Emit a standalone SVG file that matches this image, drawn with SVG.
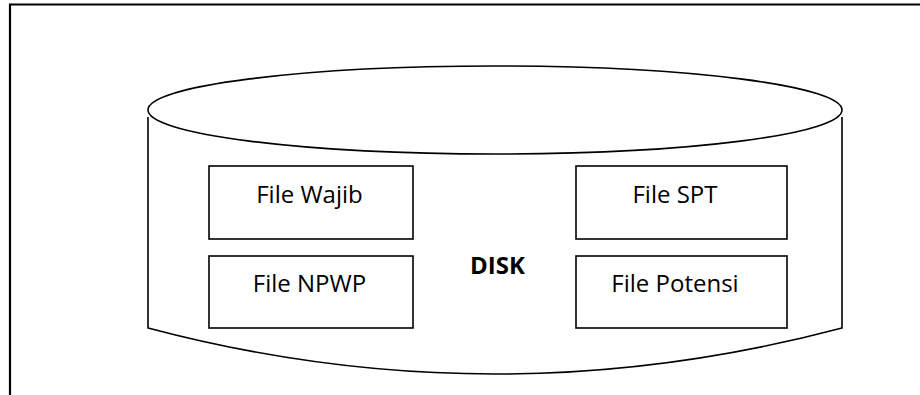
<svg xmlns="http://www.w3.org/2000/svg" width="920" height="395" viewBox="0 0 920 395">
<style>
.frame{fill:none;stroke:#000;stroke-width:2.2}
.cyl{fill:none;stroke:#000;stroke-width:1.6}
.box{fill:#fff;stroke:#000;stroke-width:1.6}
.lbl{font-family:"Open Sans","Noto Sans",sans-serif;font-size:24px;fill:#000;text-anchor:middle}
.bold{font-weight:bold}
</style>
<rect width="920" height="395" fill="#fff"/>
<path class="frame" d="M10,396 V4.5 H921"/>
<g id="disk">
<ellipse class="cyl" cx="495" cy="110" rx="347" ry="44"/>
<path class="cyl" d="M148,117 V328 Q495,420 842,328 V117"/>
<text class="lbl bold" x="497.5" y="274">DISK</text>
</g>
<g id="file-wajib">
<rect class="box" x="209" y="166" width="204" height="73"/>
<text class="lbl" x="309.5" y="203">File Wajib</text>
</g>
<g id="file-npwp">
<rect class="box" x="209" y="256" width="204" height="72"/>
<text class="lbl" x="309.5" y="292">File NPWP</text>
</g>
<g id="file-spt">
<rect class="box" x="576" y="166" width="211" height="73"/>
<text class="lbl" x="675" y="203">File SPT</text>
</g>
<g id="file-potensi">
<rect class="box" x="576" y="256" width="211" height="72"/>
<text class="lbl" x="675" y="292">File Potensi</text>
</g>
<g id="connectors"/>
</svg>
